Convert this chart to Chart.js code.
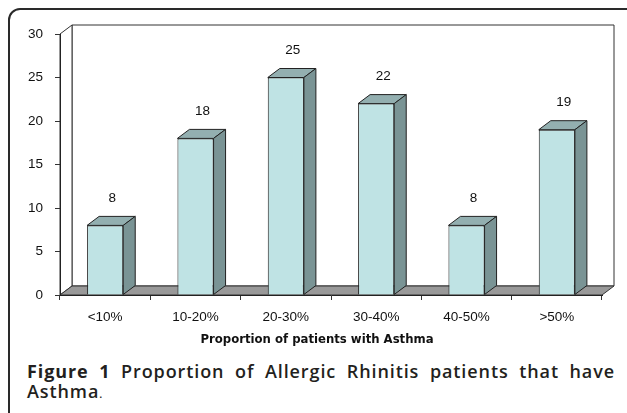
<!DOCTYPE html>
<html>
<head>
<meta charset="utf-8">
<script src="https://cdn.jsdelivr.net/npm/chart.js@4.4.1/dist/chart.umd.min.js"></script>
<style>
  html, body { margin: 0; padding: 0; background: #fff; }
  body { width: 627px; height: 413px; position: relative; overflow: hidden; }
  .frame {
    position: absolute; left: 8px; top: 8px; width: 640px; height: 430px;
    border: 2px solid #2a2a2a; border-top-left-radius: 12px; border-top-right-radius: 12px;
    box-sizing: border-box;
  }
  #chart { position: absolute; left: 0; top: 0; }
  .caption {
    position: absolute; left: 27px; width: 588px;
    font-family: "Open Sans", "Noto Sans", sans-serif; font-size: 18px; font-weight: 600;
    letter-spacing: 0.9px; line-height: 20px; color: #231f20;
    white-space: nowrap;
  }
  .line1 { top: 361px; text-align: justify; text-align-last: justify; white-space: normal; }
  .line2 { top: 381px; }
  .caption b { font-weight: 700; }
  .dot { font-size: 11px; }
</style>
</head>
<body>
<div class="frame"></div>
<canvas id="chart" width="627" height="356"></canvas>
<div class="caption line1"><b>Figure 1</b> Proportion of Allergic Rhinitis patients that have</div>
<div class="caption line2">Asthma<span class="dot">.</span></div>
<script>
// Share of allergic rhinitis patients by proportion with asthma
const categories = ['<10%', '10-20%', '20-30%', '30-40%', '40-50%', '>50%'];
const patientCounts = [8, 18, 25, 22, 8, 19];
const yMin = 0;
const yMax = 30;
const yStep = 5;
const xAxisTitle = 'Proportion of patients with Asthma';

// depth of the pseudo-3D projection
const DX = 12, DY = -9;

const FRONT = '#bfe3e4';
const TOP = '#93afb0';
const SIDE = '#7a9495';
const EDGE = '#222';
const TICK_FONT = '13.5px "Liberation Sans", Arial, sans-serif';

function poly(ctx, pts, fill, stroke) {
  ctx.beginPath();
  ctx.moveTo(pts[0][0], pts[0][1]);
  for (let i = 1; i < pts.length; i++) ctx.lineTo(pts[i][0], pts[i][1]);
  ctx.closePath();
  if (fill) { ctx.fillStyle = fill; ctx.fill(); }
  if (stroke) { ctx.strokeStyle = stroke; ctx.lineWidth = 1; ctx.stroke(); }
}

const box3d = {
  id: 'box3d',
  beforeDraw(chart) {
    const ctx = chart.ctx;
    const { left, right, top, bottom } = chart.chartArea;
    ctx.save();
    // back wall
    poly(ctx, [[left + DX, top + DY], [right + DX, top + DY], [right + DX, bottom + DY], [left + DX, bottom + DY]], '#fff', '#333');
    // side wall
    poly(ctx, [[left, top], [left + DX, top + DY], [left + DX, bottom + DY], [left, bottom]], '#fff', '#333');
    // floor
    poly(ctx, [[left, bottom], [right, bottom], [right + DX, bottom + DY], [left + DX, bottom + DY]], '#999', '#333');
    ctx.restore();
  },
  afterDatasetsDraw(chart) {
    const ctx = chart.ctx;
    const meta = chart.getDatasetMeta(0);
    const { left, right, bottom } = chart.chartArea;
    ctx.save();
    meta.data.forEach((bar, i) => {
      const { x, y, base, width } = bar.getProps(['x', 'y', 'base', 'width'], true);
      const l = x - width / 2, r = x + width / 2;
      poly(ctx, [[l, y], [l + DX, y + DY], [r + DX, y + DY], [r, y]], TOP, EDGE);
      poly(ctx, [[r, y], [r + DX, y + DY], [r + DX, base + DY], [r, base]], SIDE, EDGE);
      ctx.fillStyle = '#111';
      ctx.font = TICK_FONT;
      ctx.textAlign = 'center';
      ctx.textBaseline = 'middle';
      ctx.fillText(String(chart.data.datasets[0].data[i]), x + 7, y - 27);
    });
    // axis title under the category labels
    ctx.fillStyle = '#111';
    ctx.font = 'bold 11.7px "DejaVu Sans", Verdana, sans-serif';
    ctx.textAlign = 'center';
    ctx.textBaseline = 'middle';
    ctx.fillText(xAxisTitle, (left + right) / 2 - 14, bottom + 45);
    ctx.restore();
  }
};

new Chart(document.getElementById('chart'), {
  type: 'bar',
  data: {
    labels: categories,
    datasets: [{
      data: patientCounts,
      backgroundColor: FRONT,
      borderColor: EDGE,
      borderWidth: 1,
      barPercentage: 0.4,
      categoryPercentage: 1
    }]
  },
  plugins: [box3d],
  options: {
    responsive: false,
    animation: false,
    layout: { padding: { left: 0, top: 34, right: 25, bottom: 0 } },
    plugins: { legend: { display: false }, tooltip: { enabled: false } },
    scales: {
      x: {
        afterFit(scale) { scale.height = 61; },
        grid: { drawOnChartArea: false, tickLength: 5, color: '#333', offset: true },
        border: { display: true, color: '#222', width: 1 },
        ticks: { color: '#111', padding: 9, font: { family: '"Liberation Sans", Arial, sans-serif', size: 13.5 } }
      },
      y: {
        min: yMin, max: yMax,
        afterFit(scale) { scale.width = 60; },
        grid: { drawOnChartArea: false, tickLength: 5, color: '#333' },
        border: { display: true, color: '#222', width: 1 },
        ticks: { stepSize: yStep, color: '#111', padding: 12, font: { family: '"Liberation Sans", Arial, sans-serif', size: 13.5 } }
      }
    }
  }
});
</script>
</body>
</html>
